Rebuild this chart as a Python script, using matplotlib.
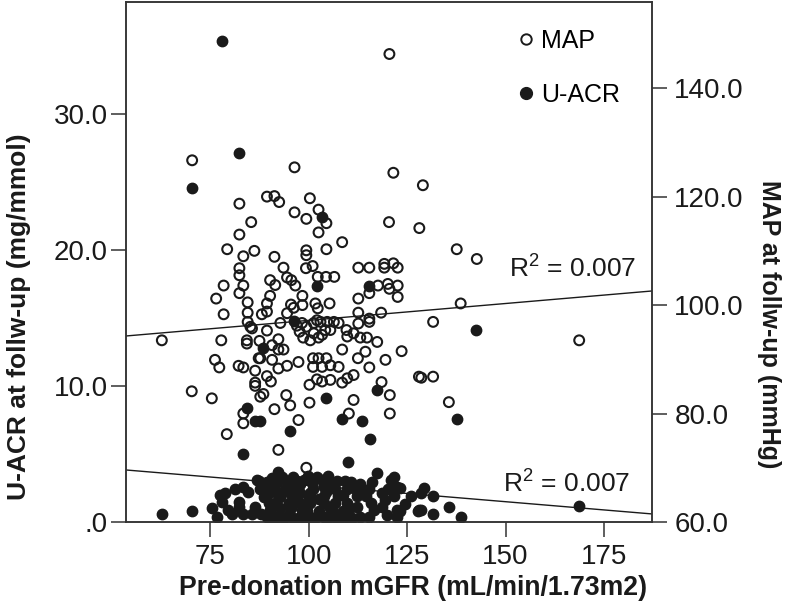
import matplotlib
matplotlib.use("Agg")
import matplotlib.pyplot as plt
from matplotlib.lines import Line2D
from matplotlib.ticker import FuncFormatter

plt.rcParams['font.family'] = ['Liberation Sans', 'DejaVu Sans']
plt.rcParams['mathtext.fontset'] = 'custom'
plt.rcParams['mathtext.rm'] = 'Liberation Sans'

# MAP at follow-up (open circles, right axis): (pre-donation mGFR, MAP)
map_points = [
    (120.5, 146.3), (70.4, 126.7), (96.4, 125.4), (121.5, 124.4), (129.0, 122.1),
    (82.4, 118.7), (89.4, 120.0), (91.3, 120.1), (92.5, 119.0), (100.3, 119.7),
    (96.4, 117.1), (99.4, 115.9), (102.5, 117.6), (85.4, 115.3), (82.4, 113.0),
    (102.5, 113.4), (104.5, 115.1), (108.5, 111.6), (120.4, 115.3), (128.1, 114.2),
    (79.3, 110.3), (83.4, 109.0), (86.2, 110.0), (91.3, 108.9), (99.4, 110.1),
    (99.4, 109.2), (104.5, 110.3), (137.6, 110.3), (142.7, 108.5), (93.6, 106.9),
    (82.4, 106.8), (82.4, 105.5), (99.3, 106.8), (101.0, 107.2), (102.3, 105.2),
    (104.4, 105.2), (106.5, 105.2), (78.4, 103.6), (83.4, 103.6), (90.2, 104.6),
    (91.5, 103.7), (94.5, 105.1), (95.6, 104.6), (96.6, 103.6), (82.4, 102.2),
    (76.5, 101.2), (84.5, 100.5), (90.2, 101.7), (89.4, 100.3), (98.4, 101.7),
    (101.7, 100.3), (78.4, 98.3), (84.5, 98.6), (88.1, 98.3), (89.4, 98.8),
    (95.5, 100.1), (98.4, 100.0), (84.5, 96.9), (92.8, 96.7), (98.3, 96.7),
    (102.1, 97.2), (94.5, 98.5), (112.6, 106.9), (115.4, 106.9), (119.2, 107.6),
    (121.5, 107.7), (119.2, 106.9), (122.6, 106.9), (117.6, 103.6), (120.1, 103.9),
    (122.6, 103.6), (115.4, 102.2), (120.5, 103.0), (122.6, 101.5), (112.6, 101.2),
    (102.3, 99.4), (105.3, 100.3), (138.6, 100.3), (112.6, 98.6), (115.4, 97.5),
    (118.4, 98.6), (131.6, 96.9), (99.4, 96.0), (101.3, 96.7), (103.0, 96.9),
    (104.7, 96.9), (106.4, 96.9), (107.6, 96.7), (112.6, 96.6), (115.4, 96.9),
    (62.7, 93.5), (77.8, 93.5), (76.2, 89.9), (77.3, 88.5), (70.3, 84.1),
    (75.4, 82.8), (79.2, 76.2), (84.3, 93.5), (87.3, 90.2), (82.2, 88.8),
    (83.4, 88.5), (86.4, 87.9), (86.4, 85.7), (86.4, 85.1), (87.7, 83.1),
    (88.5, 83.6), (89.4, 86.9), (90.4, 85.9), (83.4, 80.0), (83.4, 78.2),
    (91.3, 80.8), (92.3, 73.3), (94.3, 83.4), (95.3, 81.5), (97.4, 78.8),
    (99.4, 70.0), (100.2, 82.0), (100.2, 85.3), (103.4, 85.9), (105.5, 86.2),
    (108.5, 85.7), (107.6, 88.6), (109.8, 86.5), (111.4, 87.1), (111.4, 82.5),
    (110.2, 80.0), (115.4, 88.5), (114.4, 91.4), (112.5, 90.2), (118.5, 85.8),
    (120.6, 83.4), (120.6, 80.0), (119.5, 89.9), (123.6, 91.5), (128.0, 86.8),
    (85.6, 95.7), (89.4, 95.3), (92.3, 93.7), (90.7, 92.6), (92.3, 91.8),
    (93.6, 91.8), (87.7, 90.2), (90.7, 89.9), (92.3, 88.3), (94.5, 88.8),
    (96.2, 99.5), (97.7, 95.1), (98.6, 94.0), (100.4, 93.5), (102.5, 94.0),
    (103.4, 94.5), (97.4, 89.5), (101.1, 90.2), (102.5, 90.2), (104.5, 90.2),
    (101.1, 88.6), (103.4, 88.6), (105.5, 88.9), (109.6, 95.4), (111.4, 94.8),
    (113.1, 94.0), (114.8, 94.0), (117.4, 93.2), (108.5, 91.8), (168.7, 93.5),
    (128.6, 86.6), (131.6, 86.8), (135.6, 82.1), (85.2, 96.0), (87.5, 93.4),
    (84.3, 92.9), (102.1, 86.3), (97.0, 96.2), (101.3, 94.8), (104.2, 95.4),
    (105.5, 95.4), (109.8, 94.2),
]

# U-ACR at follow-up (filled circles, left axis): (pre-donation mGFR, U-ACR)
acr_points = [
    (77.9, 35.3), (82.4, 27.1), (70.3, 24.5), (103.4, 22.4), (102.1, 17.3),
    (115.4, 17.3), (96.2, 14.8), (142.4, 14.1), (88.4, 12.8), (104.5, 9.1),
    (117.4, 9.7), (84.3, 8.4), (86.4, 7.4), (87.7, 7.4), (95.3, 6.7),
    (108.5, 7.6), (113.6, 7.4), (137.6, 7.6), (115.5, 6.1), (83.4, 5.0),
    (110.0, 4.4), (168.7, 1.2),
    (123.3, 2.5), (128.6, 2.1), (129.4, 2.5), (131.5, 1.9), (123.3, 0.8),
    (128.6, 0.9), (131.5, 0.6), (135.6, 1.1), (138.6, 0.4), (127.8, 0.8),
    (62.7, 0.6), (70.3, 0.8), (75.4, 1.0), (76.7, 0.4), (77.5, 2.0),
    (78.8, 2.1), (77.9, 1.5), (79.6, 0.9), (82.2, 1.1), (83.4, 0.6),
    (85.6, 0.6), (86.4, 1.1), (81.3, 2.4), (83.4, 2.6), (84.7, 2.2),
    (86.9, 3.1), (87.7, 2.4), (87.3, 3.0), (82.4, 1.5), (80.5, 0.6),
    (89.4, 2.9), (89.8, 2.1), (89.8, 1.4), (89.4, 0.4), (88.6, 1.8),
    (90.3, 0.9), (88.9, 2.5), (88.0, 0.6), (90.8, 3.2),
    (92.3, 3.7), (91.9, 2.9), (91.9, 2.1), (91.5, 1.4), (91.9, 0.4),
    (92.6, 1.0), (91.2, 2.5), (92.8, 1.8), (93.3, 3.3), (91.0, 0.3),
    (94.5, 3.0), (94.9, 2.8), (95.3, 2.1), (94.9, 1.4), (94.9, 0.6),
    (95.6, 1.0), (94.1, 2.4), (93.7, 0.3), (96.0, 3.3), (96.1, 0.3),
    (97.0, 3.0), (97.9, 2.8), (97.9, 2.1), (97.9, 1.4), (97.9, 0.4),
    (98.4, 0.9), (97.2, 2.5), (96.6, 1.8), (98.8, 0.3),
    (98.7, 3.1), (100.8, 2.85), (100.4, 2.1), (100.4, 1.4), (100.4, 0.4),
    (99.5, 0.8), (101.2, 2.4), (100.0, 1.8), (99.3, 1.0), (99.8, 3.4),
    (103.4, 3.1), (103.8, 2.6), (103.8, 1.9), (103.8, 1.4), (103.8, 0.4),
    (102.6, 0.8), (104.5, 2.2), (102.5, 1.7), (102.0, 3.3), (101.6, 0.3),
    (106.8, 2.4), (106.8, 1.4), (106.8, 0.4), (105.7, 2.9), (105.5, 1.0),
    (107.5, 1.9), (106.2, 0.7), (104.8, 3.4), (107.3, 3.0), (105.0, 0.3),
    (109.8, 2.4), (109.8, 1.4), (109.8, 0.4), (108.7, 2.0), (110.5, 1.0),
    (108.6, 0.8), (109.2, 3.0), (110.7, 2.9), (107.9, 0.3), (111.0, 0.3),
    (112.3, 1.9), (112.3, 1.1), (113.1, 0.4), (111.5, 2.5), (113.0, 2.8),
    (115.3, 2.4), (115.7, 1.4), (115.3, 0.4), (114.5, 1.9), (116.5, 0.9),
    (113.8, 2.2), (116.0, 2.9),
    (117.4, 3.6), (118.7, 2.1), (118.7, 1.1), (119.5, 1.6), (120.8, 3.1),
    (121.6, 3.3), (122.5, 2.6), (121.6, 1.9), (122.5, 0.9), (122.5, 0.4),
    (125.9, 1.9), (128.0, 0.9), (120.2, 2.4), (119.8, 0.5), (124.5, 1.3),
]

# linear fit lines (ends at the axis edges)
fit_gfr = [53.6, 187.2]
map_fit = [94.3, 102.6]
acr_fit = [3.82, 0.59]
r2_labels = ["R$^2$ = 0.007", "R$^2$ = 0.007"]

x_ticks = [75, 100, 125, 150, 175]
acr_ticks = [0, 10, 20, 30]
map_ticks = [60, 80, 100, 120, 140]

ink = "#1a1a1a"

fig = plt.figure(figsize=(7.87, 6.12), dpi=100)
ax = fig.add_axes([0.1601, 0.1471, 0.6684, 0.8497])
ax2 = ax.twinx()

acr_x, acr_y = zip(*acr_points)
map_x, map_y = zip(*map_points)

ax.scatter(acr_x, acr_y, s=56, c=ink, edgecolors=ink, linewidths=1.0, zorder=3)
ax.plot(fit_gfr, acr_fit, color=ink, lw=1.0, zorder=2)

ax2.scatter(map_x, map_y, s=50, facecolors="none", edgecolors=ink, linewidths=1.5, zorder=3)
ax2.plot(fit_gfr, map_fit, color=ink, lw=1.0, zorder=2)

ax.set_xlim(fit_gfr)
ax.set_ylim(0, 38.2)
ax2.set_ylim(60, 155.9)

ax.set_xticks(x_ticks)
ax.set_yticks(acr_ticks)
ax2.set_yticks(map_ticks)
ax.yaxis.set_major_formatter(FuncFormatter(lambda v, _: ("%.1f" % v).lstrip("0") if v < 1 else "%.1f" % v))
ax2.yaxis.set_major_formatter(FuncFormatter(lambda v, _: "%.1f" % v))

for a in (ax, ax2):
    a.tick_params(direction="out", length=11, width=1.1, color="#333333", labelsize=20, labelcolor=ink)
    for sp in a.spines.values():
        sp.set_color("#333333")
        sp.set_linewidth(1.1)
ax.tick_params(axis="y", pad=2)
ax.tick_params(axis="x", pad=5)
ax2.tick_params(axis="y", pad=5)

fig.text(0.525, 0.040, "Pre-donation mGFR (mL/min/1.73m2)", ha="center", va="center",
         fontsize=19.2, fontweight="bold", color=ink)
fig.text(0.024, 0.482, "U-ACR at follw-up (mg/mmol)", ha="center", va="center",
         rotation=90, fontsize=19, fontweight="bold", color=ink)
fig.text(0.977, 0.47, "MAP at follw-up (mmHg)", ha="center", va="center",
         rotation=270, fontsize=18, fontweight="bold", color=ink)

ax2.text(0.970, 0.490, r2_labels[0], transform=ax2.transAxes, ha="right", va="center",
         fontsize=19, color=ink)
ax2.text(0.958, 0.075, r2_labels[1], transform=ax2.transAxes, ha="right", va="center",
         fontsize=19, color=ink)

handles = [
    Line2D([], [], ls="", marker="o", ms=7.5, mfc="none", mec=ink, mew=1.4, label="MAP"),
    Line2D([], [], ls="", marker="o", ms=8.5, mfc=ink, mec=ink, label="U-ACR"),
]
ax2.legend(handles=handles, loc="upper left", bbox_to_anchor=(0.747, 0.948), frameon=False,
           fontsize=18, handlelength=0.6, handletextpad=0.3, labelspacing=1.2,
           borderpad=0, borderaxespad=0)

fig.savefig("out.png", dpi=100)
